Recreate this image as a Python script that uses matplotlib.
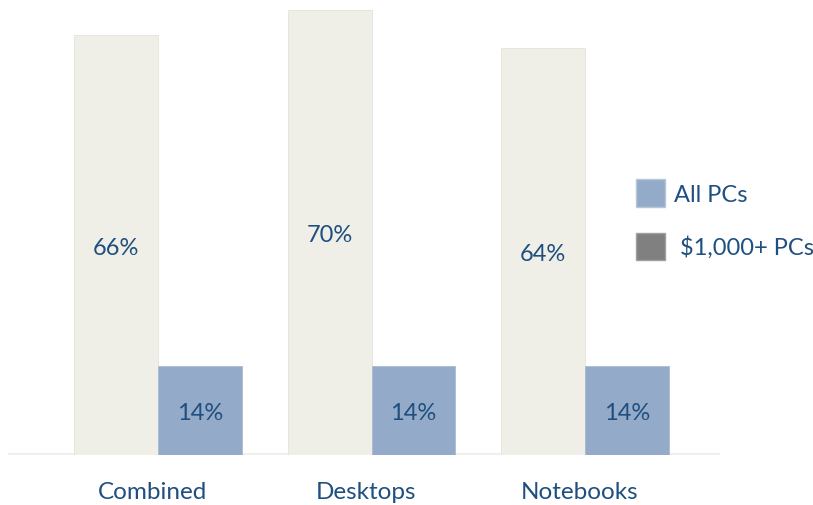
import matplotlib.pyplot as plt
from matplotlib.patches import Patch
from matplotlib.transforms import ScaledTranslation

categories = ["Combined", "Desktops", "Notebooks"]
premium_pcs = [66, 70, 64]   # $1,000+ PCs
all_pcs = [14, 14, 14]

beige = "#efeee7"
blue = "#93abc8"
grey = "#808080"
ink = "#1f4f7f"

plt.rcParams["font.family"] = ["Lato", "DejaVu Sans"]

fig = plt.figure(figsize=(8.13, 5.06), dpi=100)
ax = fig.add_axes([8 / 813, 50 / 506, 712 / 813, 456 / 506])

x = range(len(categories))
w = 0.393
left = [i - w / 2 for i in x]
right = [i + w / 2 for i in x]

ax.bar(left, premium_pcs, width=w, color=beige, edgecolor="#e4e3dc", linewidth=0.6)
ax.bar(right, all_pcs, width=w, color=blue, edgecolor="#a9bcd3", linewidth=0.6)

for xi, v in zip(left, premium_pcs):
    ax.text(xi, v / 2, f"{v}%", ha="center", va="center_baseline", fontsize=17, color=ink)
for xi, v in zip(right, all_pcs):
    ax.text(xi, v / 2, f"{v}%", ha="center", va="center_baseline", fontsize=17, color=ink)

ax.axhline(0, color="#f0efea", linewidth=3, zorder=0)

ax.set_xlim(-0.703, 2.632)
ax.set_ylim(0, 71.7)
ax.set_xticks(list(x))
ax.set_xticklabels(categories, fontsize=17.5, color=ink)
ax.tick_params(axis="x", length=0, pad=19)
# category names sit a little left of the group centre
shift = ScaledTranslation(-6 / 100, 0, fig.dpi_scale_trans)
for lbl in ax.get_xticklabels():
    lbl.set_transform(lbl.get_transform() + shift)
ax.set_yticks([])
for s in ax.spines.values():
    s.set_visible(False)

handles = [Patch(facecolor=blue, edgecolor="#b7c6d9", label="All PCs"),
           Patch(facecolor=grey, edgecolor="#a0a0a0", label=" $1,000+ PCs")]
leg = ax.legend(handles=handles, loc="upper left", bbox_to_anchor=(619 / 712, 1 - 171 / 456),
                frameon=False, fontsize=17, handlelength=1.19, handleheight=1.42,
                labelspacing=1.08, handletextpad=0.42, borderaxespad=0)
for t in leg.get_texts():
    t.set_color(ink)

fig.savefig("out.png", dpi=100)
